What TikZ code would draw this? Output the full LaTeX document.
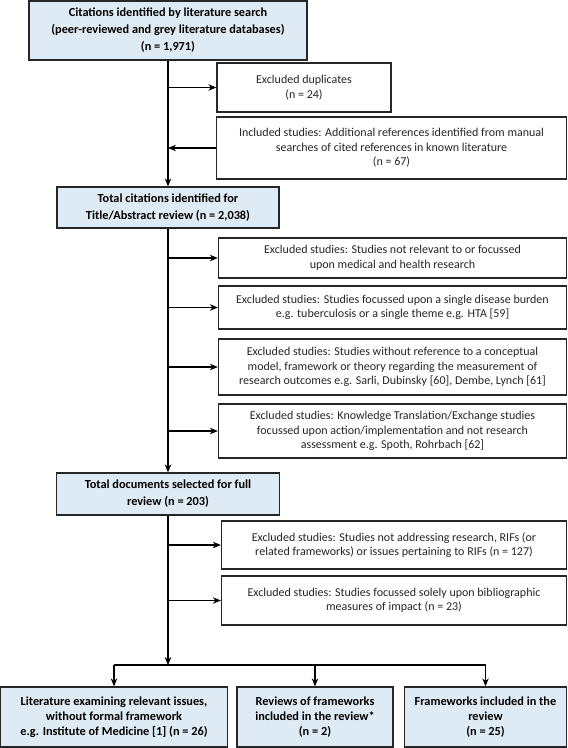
\documentclass[tikz,border=0pt]{standalone}
\usepackage{fontspec}
\setmainfont{Carlito}
\usetikzlibrary{arrows.meta}
\definecolor{boxblue}{RGB}{222,235,245}
\tikzset{
  mainbox/.style={draw=black!85, line width=1.3pt, fill=boxblue, align=center, inner sep=2pt, font=\fontsize{12.3}{17}\selectfont\bfseries},
  endbox/.style={mainbox, font=\fontsize{12.3}{15}\selectfont\bfseries},
  sidebox/.style={draw=black!85, line width=1.3pt, fill=white, align=center, inner sep=2pt, font=\fontsize{12}{14.5}\selectfont, text=black!85},
  link/.style={line width=1.1pt}
}
\begin{document}
\begin{tikzpicture}[>={Stealth[length=8pt,width=6.5pt]},x=1pt,y=-1pt]
	\useasboundingbox (0,0) rectangle (568,748);
	% main column
	\node[mainbox,minimum width=278pt,minimum height=59pt] (cite) at (168,30.5) {Citations identified by literature search\\(peer-reviewed and grey literature databases)\\(n = 1,971)};
	\node[mainbox,minimum width=222pt,minimum height=41pt] (total) at (168,207.5) {Total citations identified for\\Title/Abstract review (n = 2,038)};
	\node[mainbox,minimum width=223pt,minimum height=42pt] (docs) at (168,494) {Total documents selected for full\\review (n = 203)};
	% side boxes
	\node[sidebox,minimum width=174pt,minimum height=49pt] (dup) at (304,87.5) {Excluded duplicates\\(n = 24)};
	\node[sidebox,minimum width=350pt,minimum height=62pt] (manual) at (391.5,148) {Included studies: Additional references identified from manual\\searches of cited references in known literature\\(n = 67)};
	\node[sidebox,minimum width=348pt,minimum height=40pt] (notrel) at (392.5,258) {Excluded studies: Studies not relevant to or focussed\\upon medical and health research};
	\node[sidebox,minimum width=348pt,minimum height=43pt] (single) at (392.5,307.5) {Excluded studies: Studies focussed upon a single disease burden\\e.g. tuberculosis or a single theme e.g. HTA [59]};
	\node[sidebox,minimum width=348pt,minimum height=56pt] (concept) at (392.5,367) {Excluded studies: Studies without reference to a conceptual\\model, framework or theory regarding the measurement of\\research outcomes e.g. Sarli, Dubinsky [60], Dembe, Lynch [61]};
	\node[sidebox,minimum width=348pt,minimum height=54pt] (kte) at (392.5,431) {Excluded studies: Knowledge Translation/Exchange studies\\focussed upon action/implementation and not research\\assessment e.g. Spoth, Rohrbach [62]};
	\node[sidebox,minimum width=345pt,minimum height=48pt] (notaddr) at (394,545) {Excluded studies: Studies not addressing research, RIFs (or\\related frameworks) or issues pertaining to RIFs (n = 127)};
	\node[sidebox,minimum width=345pt,minimum height=49pt] (biblio) at (394,600.5) {Excluded studies: Studies focussed solely upon bibliographic\\measures of impact (n = 23)};
	% outcome boxes
	\node[endbox,minimum width=227pt,minimum height=60pt] (lit) at (114,717) {Literature examining relevant issues,\\without formal framework\\e.g. Institute of Medicine [1] (n = 26)};
	\node[endbox,minimum width=156pt,minimum height=60pt] (rev) at (315,717) {Reviews of frameworks\\included in the review*\\(n = 2)};
	\node[endbox,minimum width=162pt,minimum height=60pt] (fw) at (485.5,717) {Frameworks included in the\\review\\(n = 25)};
	\coordinate (split) at (168,665);
	% connectors
	\draw[link,->] (cite) -- (total);
	\draw[link,->] (total) -- (docs);
	\draw[link,->] (docs) -- (split);
	\draw[link,->] (dup.west -| cite.south) -- (dup.west);
	\draw[link,->] (manual.west) -- (manual.west -| cite.south);
	\foreach \b in {notrel,single,concept,kte,notaddr,biblio}
		\draw[link,->] (\b.west -| total.south) -- (\b.west);
	\draw[link] (split -| lit.north) -- (split -| fw.north);
	\foreach \b in {lit,rev,fw}
		\draw[link,->] (split -| \b.north) -- (\b.north);
\end{tikzpicture}
\end{document}
